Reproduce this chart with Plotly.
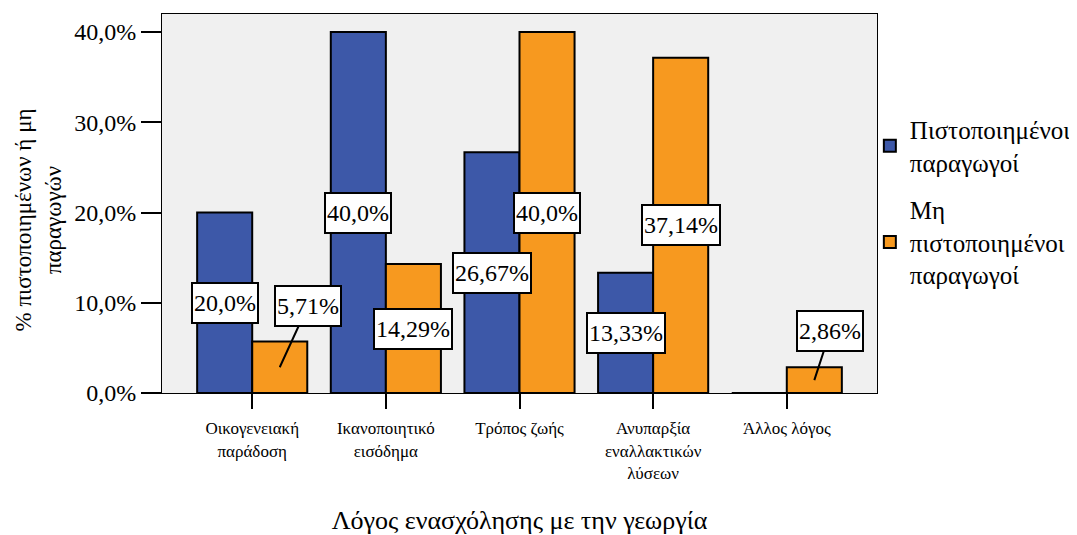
import plotly.graph_objects as go

categories = ["Οικογενειακή<br>παράδοση", "Ικανοποιητικό<br>εισόδημα", "Τρόπος ζωής",
              "Ανυπαρξία<br>εναλλακτικών<br>λύσεων", "Άλλος λόγος"]
certified = [20.0, 40.0, 26.67, 13.33, 0.0]
non_certified = [5.71, 14.29, 40.0, 37.14, 2.86]
certified_labels = ["20,0%", "40,0%", "26,67%", "13,33%", None]
non_certified_labels = ["5,71%", "14,29%", "40,0%", "37,14%", "2,86%"]
series_names = ["Πιστοποιημένοι<br>παραγωγοί", "Μη<br>πιστοποιημένοι<br>παραγωγοί"]
y_ticks = [0, 10, 20, 30, 40]
y_tick_text = ["0,0%", "10,0%", "20,0%", "30,0%", "40,0%"]

BLUE = "#3D58A8"
ORANGE = "#F7991F"
FONT = "Liberation Serif"
BARGAP = 0.176
half = (1 - BARGAP) / 4

xs = list(range(len(categories)))

fig = go.Figure()
fig.add_trace(go.Bar(x=xs, y=certified, name=series_names[0], legendgroup="a",
                     marker=dict(color=BLUE, line=dict(color="black", width=2))))
fig.add_trace(go.Bar(x=xs, y=non_certified, name=series_names[1], legendgroup="b",
                     marker=dict(color=ORANGE, line=dict(color="black", width=2))))

ann = []
def label(x, y, text, ax=None, ay=None):
    d = dict(x=x, y=y, xref="x", yref="y", text=text,
             font=dict(family=FONT, size=24, color="black"),
             bgcolor="white", bordercolor="black", borderwidth=2, borderpad=1,
             height=36)
    if ax is None:
        d["showarrow"] = False
    else:
        d.update(showarrow=True, arrowhead=0, arrowwidth=2, arrowcolor="black",
                 ax=ax, ay=ay, standoff=0)
    ann.append(d)

# leader-line offsets (pixels) for short bars
leaders = {0: (28, -61), 4: (16, -49)}
for i, (v, t) in enumerate(zip(certified, certified_labels)):
    if t:
        label(i - half, v / 2, t)
for i, (v, t) in enumerate(zip(non_certified, non_certified_labels)):
    if i in leaders:
        label(i + half, v / 2, t, *leaders[i])
    else:
        label(i + half, v / 2, t)

# y-axis title
ann.append(dict(x=-0.173, y=0.456, xref="paper", yref="paper", showarrow=False,
                xanchor="center", yanchor="middle",
                text="% πιστοποιημένων ή μη<br>παραγωγών", textangle=-90,
                font=dict(family=FONT, size=23, color="black")))

fig.update_layout(
    width=1069, height=527,
    margin=dict(l=154, r=200, t=6, b=142, autoexpand=False),
    paper_bgcolor="white", plot_bgcolor="#F0F0F0",
    barmode="group", bargap=BARGAP, bargroupgap=0,
    font=dict(family=FONT, color="black"),
    annotations=ann,
    legend=dict(x=0.99, y=0.755, xanchor="left", yanchor="top",
                bgcolor="rgba(0,0,0,0)",
                font=dict(family=FONT, size=25, color="black"),
                tracegroupgap=12),
    xaxis=dict(tickmode="array", tickvals=xs, ticktext=categories,
               range=[-0.675, len(categories) - 1 + 0.675],
               ticks="outside", ticklen=15, tickwidth=2, tickcolor="black",
               tickfont=dict(family=FONT, size=17, color="black"),
               ticklabelstandoff=5,
               showline=True, linecolor="black", linewidth=1, mirror=True,
               showgrid=False, zeroline=False, automargin=False,
               title=dict(text="Λόγος ενασχόλησης με την γεωργία",
                          font=dict(family=FONT, size=26, color="black"), standoff=38)),
    yaxis=dict(range=[0, 42], tickmode="array", tickvals=y_ticks, ticktext=y_tick_text,
               ticks="outside", ticklen=20, tickwidth=2, tickcolor="black",
               tickfont=dict(family=FONT, size=24, color="black"),
               showline=True, linecolor="black", linewidth=1, mirror=True,
               showgrid=False, zeroline=False, automargin=False),
)

fig.write_html("out.html")
